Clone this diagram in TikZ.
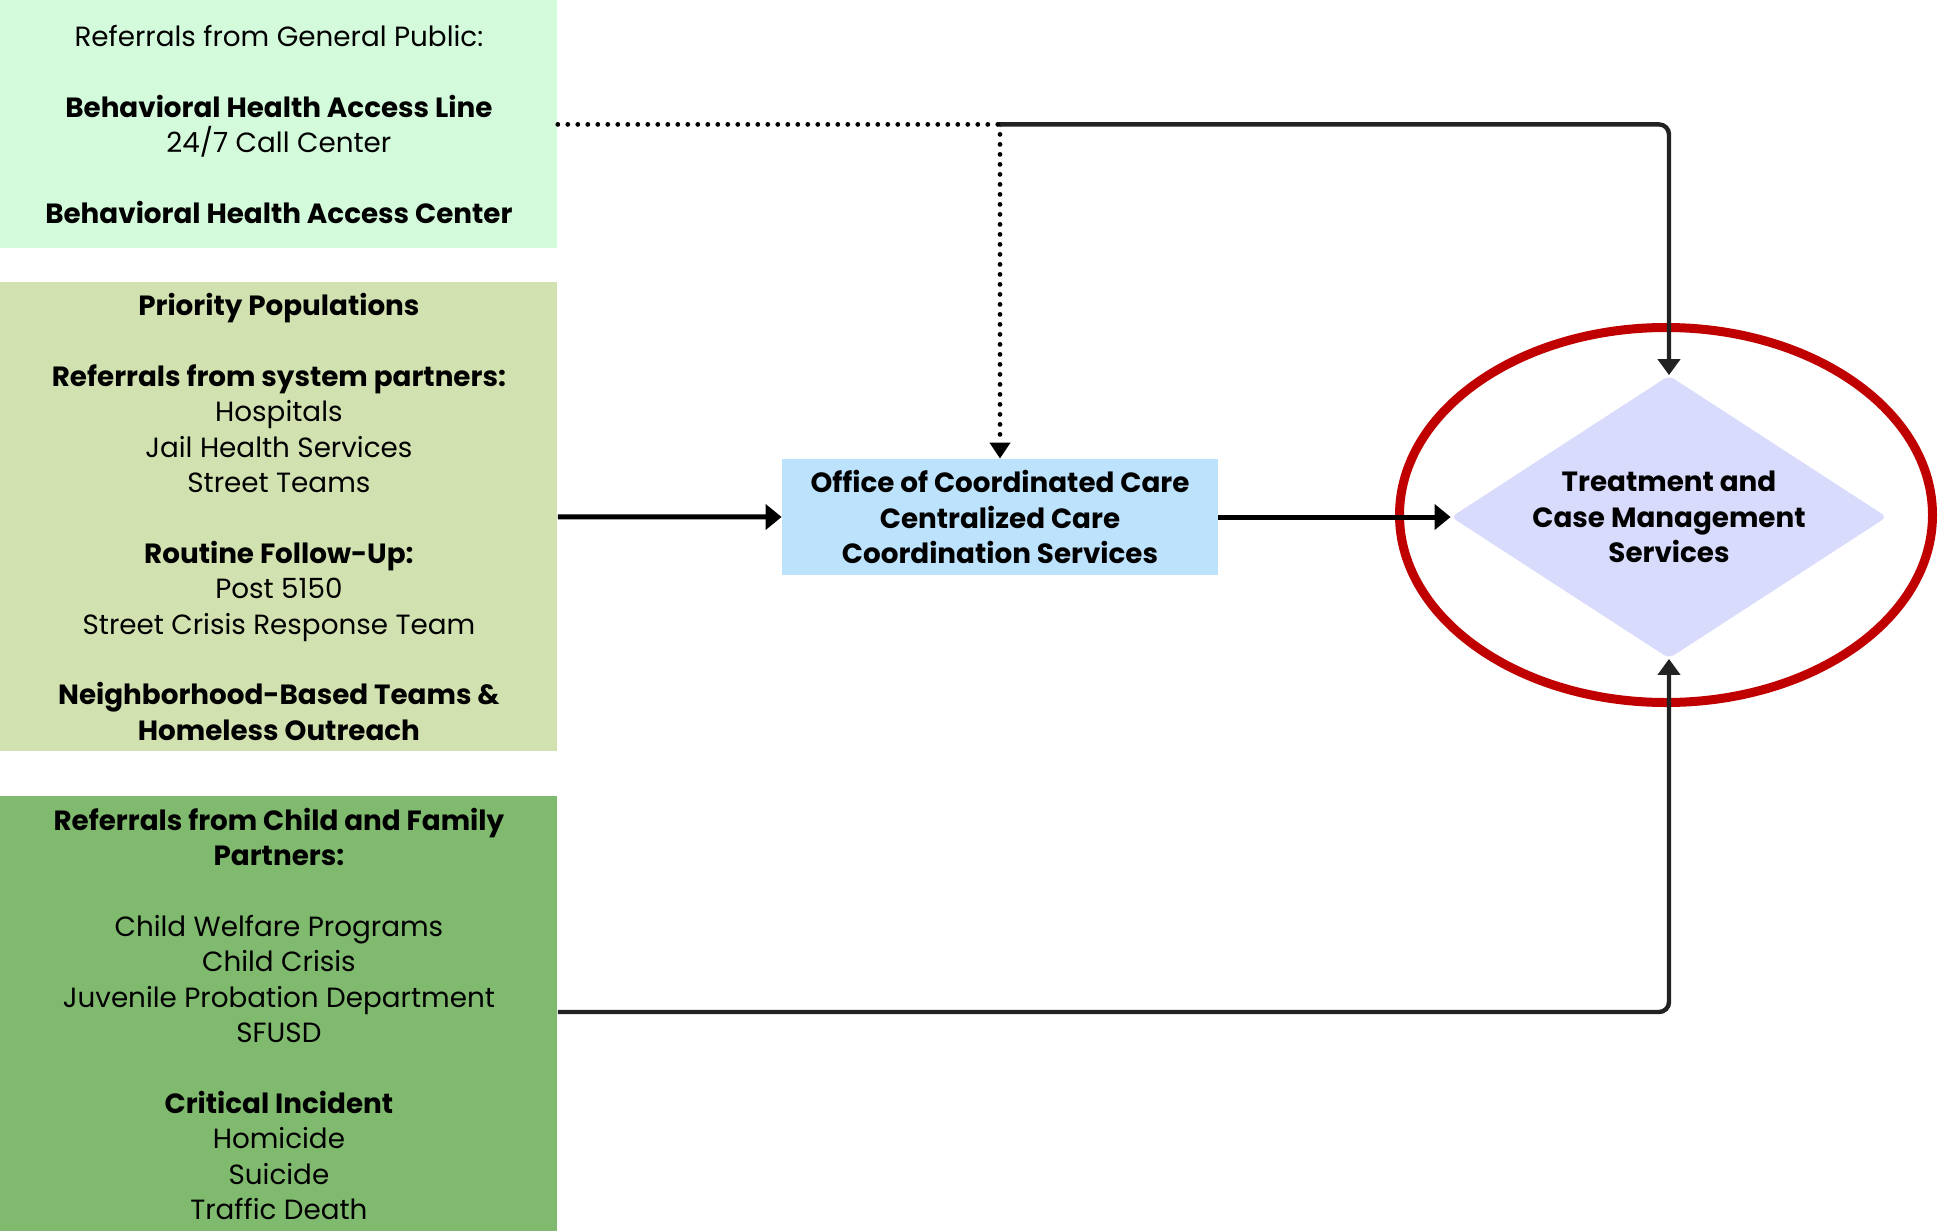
\documentclass[tikz,border=0pt]{standalone}
\usepackage{fontspec}
\setmainfont{Poppins}
\usepackage{tikz}
\usetikzlibrary{arrows.meta,shapes.geometric}

\definecolor{publicgreen}{RGB}{212,250,220}
\definecolor{prioritygreen}{RGB}{210,225,176}
\definecolor{childgreen}{RGB}{128,186,110}
\definecolor{occblue}{RGB}{189,227,252}
\definecolor{treatlilac}{RGB}{216,219,252}
\definecolor{ringred}{RGB}{192,0,0}
\definecolor{linegray}{RGB}{34,34,34}

\tikzset{
  srcbox/.style={anchor=north west, minimum width=278.5pt, inner sep=0pt,
    align=center, font=\fontsize{13.9}{17.7}\selectfont},
  hubbox/.style={minimum width=218pt, minimum height=58pt, inner sep=0pt,
    fill=occblue, align=center, font=\bfseries\fontsize{13.9}{17.7}\selectfont},
  link/.style={draw=linegray, line width=2.2pt, rounded corners=5pt,
    -{Triangle[length=8pt,width=11pt]}},
  boldlink/.style={link, draw=black, line width=2.5pt,
    -{Triangle[length=8pt,width=12.5pt]}},
  dotlink/.style={draw=black, line width=2.4pt, line cap=round,
    dash pattern=on 0pt off 5pt},
}

\begin{document}
\begin{tikzpicture}[x=0.5pt,y=-0.5pt]
      \useasboundingbox (0,0) rectangle (1939,1231);
      % source boxes
      \node[name=public, srcbox, fill=publicgreen, minimum height=124pt] at (0,0)
        {Referrals from General Public:\\[17.7pt]
         \textbf{Behavioral Health Access Line}\\
         24/7 Call Center\\[17.7pt]
         \textbf{Behavioral Health Access Center}};
      \node[name=priority, srcbox, fill=prioritygreen, minimum height=234.5pt] at (0,282)
        {\textbf{Priority Populations}\\[17.7pt]
         \textbf{Referrals from system partners:}\\
         Hospitals\\
         Jail Health Services\\
         Street Teams\\[17.7pt]
         \textbf{Routine Follow-Up:}\\
         Post 5150\\
         Street Crisis Response Team\\[17.7pt]
         \textbf{Neighborhood-Based Teams \&}\\
         \textbf{Homeless Outreach}};
      \node[name=child, srcbox, fill=childgreen, minimum height=217.5pt] at (0,796)
        {\textbf{Referrals from Child and Family}\\
         \textbf{Partners:}\\[17.7pt]
         Child Welfare Programs\\
         Child Crisis\\
         Juvenile Probation Department\\
         SFUSD\\[17.7pt]
         \textbf{Critical Incident}\\
         Homicide\\
         Suicide\\
         Traffic Death};
      % coordination and treatment
      \node[name=occ, hubbox] at (1000,517)
        {Office of Coordinated Care\\
         Centralized Care\\
         Coordination Services};
      \node[name=treat, diamond, fill=treatlilac, rounded corners=3pt, inner sep=0pt,
        minimum width=218pt, minimum height=141.5pt, aspect=1.54, align=center,
        font=\bfseries\fontsize{13.9}{17.7}\selectfont] at (1669,517)
        {Treatment and\\
         Case Management\\
         Services};
      \node[name=ring, ellipse, draw=ringred, line width=4.5pt,
        minimum width=266.5pt, minimum height=187.5pt] at (1666,515) {};
      % connectors
      \coordinate (split) at (occ.north |- public.east);
      \draw[dotlink] (public.east) -- (split);
      \draw[dotlink, -{Triangle[length=8pt,width=10pt]}] (split) -- (occ.north);
      \draw[link] (split) -| (treat.north);
      \draw[boldlink] (priority.east) -- (occ.west);
      \draw[boldlink] (occ.east) -- (treat.west);
      \draw[link] (child.east |- 0,1012) -| (treat.south);
   \end{tikzpicture}
\end{document}
